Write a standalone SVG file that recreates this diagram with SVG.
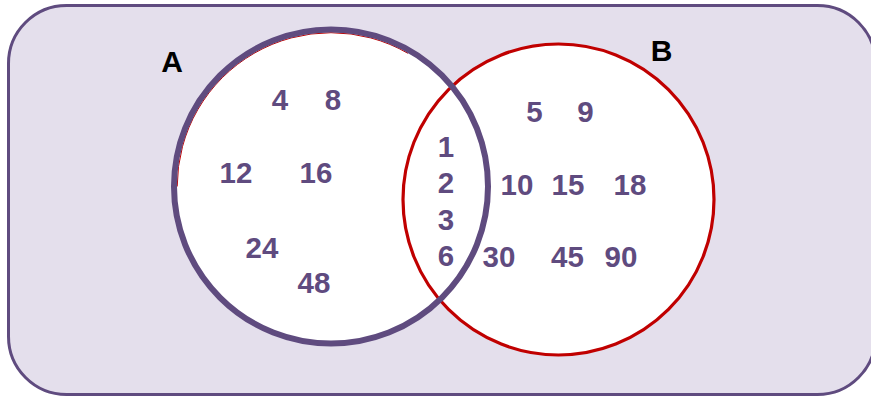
<svg xmlns="http://www.w3.org/2000/svg" width="871" height="397" viewBox="0 0 871 397">
<style>
.num{font-family:"Liberation Sans",Arial,sans-serif;font-weight:bold;font-size:29.5px;fill:#5f4b7f;text-anchor:middle}
.lbl{font-family:"Liberation Sans",Arial,sans-serif;font-weight:bold;font-size:30px;fill:#000;text-anchor:middle}
</style>
<rect id="universe" x="8.5" y="5.5" width="867" height="389" rx="58" ry="58" fill="#e4dfec" stroke="#5f4b7f" stroke-width="3"/>
<circle cx="331" cy="186.5" r="157" fill="#fff"/>
<g id="setB">
<circle cx="558.5" cy="199.5" r="155.5" fill="#fff" stroke="#c00000" stroke-width="3.2"/>
</g>
<g id="setA">
<path d="M177.2,186.5 A153.8,153.8 0 0 1 407.9,53.3" fill="none" stroke="#c00000" stroke-width="1"/>
<circle cx="331" cy="186.5" r="157" fill="none" stroke="#5f4b7f" stroke-width="6"/>
</g>
<g id="labels">
<text class="lbl" x="172" y="72">A</text>
<text class="lbl" x="661.5" y="61">B</text>
</g>
<g id="onlyA">
<text class="num" x="280" y="110">4</text>
<text class="num" x="333" y="110">8</text>
<text class="num" x="236" y="183">12</text>
<text class="num" x="316" y="183">16</text>
<text class="num" x="262" y="258">24</text>
<text class="num" x="314" y="293">48</text>
</g>
<g id="both">
<text class="num" x="446" y="157">1</text>
<text class="num" x="446" y="193">2</text>
<text class="num" x="446" y="230">3</text>
<text class="num" x="446" y="266">6</text>
</g>
<g id="onlyB">
<text class="num" x="534.5" y="122">5</text>
<text class="num" x="585.5" y="122">9</text>
<text class="num" x="517" y="195">10</text>
<text class="num" x="568" y="195">15</text>
<text class="num" x="630" y="195">18</text>
<text class="num" x="499" y="267">30</text>
<text class="num" x="567.5" y="267">45</text>
<text class="num" x="621" y="267">90</text>
</g>
</svg>
